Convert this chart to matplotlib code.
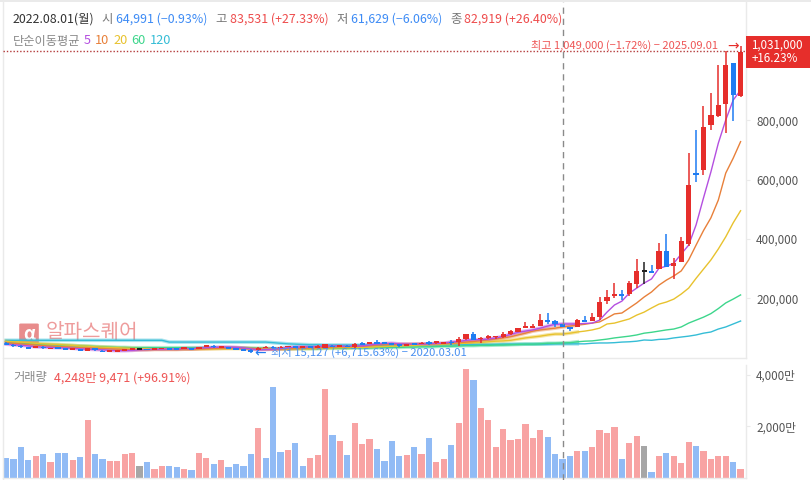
import matplotlib
matplotlib.use("Agg")
import matplotlib.pyplot as plt
from matplotlib.patches import Rectangle, FancyBboxPatch
from matplotlib.lines import Line2D

plt.rcParams['font.family'] = ['Noto Sans CJK KR', 'DejaVu Sans']

# Monthly candles, in thousands
opens = [50,43,40,35,33,37,30,33,32,26,28,23,31,23,20,20,23,25,28,29,26,28,32,29,30,32,29,35,39,34,
         34,32,29,25,25,33,36,32,36,38,34,38,33,33,40,37,40,35,48,47,51,51,48,44,40,48,47,51,48,48,
         52,51,61,79,61,66,68,70,78,87,99,99,106,126,123,113,103,103,126,123,137,191,207,214,214,248,292,292,300,359,
         309,323,383,621,632,784,814,856,992,882]
closes = [43,38,34,30,39,31,32,31,26,30,22,31,24,17.5,25,25,29,32,28,26,30,31,26,28,35,26,34,41,34,37,
          29,26,23,20,33,36,32,36,38,34,38,33,40,44,35,41,35,47,43,51,48,48,42,38,45,44,49,44,54,51,
          48,63,79,60,66,73,72,79,90,98,106,106,126,120,113,103,96,126,120,137,187,204,214,207,251,292,292,286,359,306,
          318,393,582,617,777,818,852,987,885,1031]
highs = [52,44,41,36,40,38,33,34,33,31,29,32,32,24,26,26,30,33,31,30,31,33,33,30,36,33,35,42,43,40,
         35,33,30,30,35,38,38,38,40,39,40,39,41,46,42,43,42,50,52,53,58,53,50,46,46,50,51,57,56,53,
         59,68,80,87,69,77,74,86,93,100,120,113,147,150,126,113,103,129,140,150,204,227,251,227,258,332,322,312,385,416,
         336,407,689,767,848,891,987,1034,992,1049]
lows = [42,37,33,29,32,30,29,30,25,25,21,22,23,17,19,19,22,24,25,25,25,27,25,27,29,25,28,34,33,33,
        28,25,22,15,24,31,30,31,34,33,33,32,32,32,34,36,34,30,42,46,47,47,41,36,39,43,46,43,47,47,
        42,40,60,59,49,62,62,65,76,85,99,99,106,113,103,103,89,103,120,123,126,180,202,194,208,234,248,286,300,306,
        266,323,377,593,615,767,812,758,799,877]

# Moving averages, in thousands
ma5 = [45,43,41,39,36,35,34,33,32,31,29,28,27,26,24,23,23,24,26,27,28,28,29,29,30,30,31,33,34,35,
       35,34,32,29,26,27,28,30,33,35,36,36,37,38,39,38,38,38,39,42,45,47,48,46,45,45,45,46,47,48,
       52,54,58,60,60,62,66,71,78,85,89,93,99,106,112,113,113,113,115,116,126,153,177,190,217,234,251,265,301,308,
       318,349,379,447,538,626,723,801,868,902]
ma10 = [50,48,46,44,42,40,38,37,36,34,33,32,31,30,29,28,27,26,26,26,27,27,27,27,28,28,29,30,31,31,
        32,32,31,30,29,28,28,29,29,30,31,32,33,34,35,36,36,37,38,40,42,43,44,44,45,45,46,46,47,47,
        48,50,52,54,57,60,63,66,70,76,82,89,93,96,99,103,106,109,112,116,120,133,147,150,167,184,204,221,244,261,
        275,292,329,379,428,471,531,622,672,728]
ma20 = [55,53,52,50,48,46,45,44,42,41,39,38,36,35,34,33,32,31,30,30,29,29,29,28,28,28,29,29,29,30,
        30,30,30,30,29,29,29,29,29,30,30,30,31,32,32,33,33,34,34,35,36,37,38,39,40,41,42,43,44,45,
        46,47,48,50,51,53,55,56,58,62,66,69,72,76,79,79,82,86,89,93,99,113,116,123,130,143,153,167,180,187,
        197,214,234,267,298,329,366,407,454,495]
ma60 = [49,48,47,46,45,44,43,42,41,40,39,38,37,36,35,34,34,33,33,33,33,33,33,33,33,33,33,33,33,33,
        32,32,32,31,31,31,30,30,30,30,30,30,30,31,31,31,31,32,32,32,33,33,34,34,35,35,36,36,37,38,
        38,39,40,40,41,41,42,42,43,44,45,45,46,48,48,49,50,53,55,56,59,62,66,69,72,76,82,85,89,93,
        96,103,116,126,136,148,165,184,197,211]
ma120 = [58,58,58,58,58,58,58,58,58,58,58,58,58,58,58,58,58,58,58,58,58,58,52,52,52,52,52,52,52,52,
         52,52,52,52,52,52,50,48,46,45,44,43,43,42,42,42,42,42,42,42,42,42,42,42,42,43,43,43,43,43,
         43,43,44,44,44,44,44,45,45,45,45,45,45,45,46,46,46,46,46,48,49,49,50,52,53,55,59,58,61,62,
         66,69,72,76,82,86,96,103,113,123]
ma_labels = ['5', '10', '20', '60', '120']

# Monthly volume, in units of 만
volume = [745,706,1176,667,823,902,588,941,941,667,784,2235,902,706,627,627,902,941,431,588,
          314,431,431,392,314,274,941,745,510,667,392,510,431,902,1921,745,3529,980,1059,1333,
          431,745,863,3451,1647,1412,863,2118,1294,1490,1098,627,1412,823,863,1176,902,1529,588,706,
          1255,2118,4235,3804,2706,2235,1176,1882,1451,1490,2078,1529,1843,1569,902,706,823,1020,1020,1176,
          1843,1725,1961,706,1333,1608,1216,196,823,941,823,549,1372,1216,1020,706,823,823,588,314]
vol_dir = ['d','d','d','d','u','d','u','d','d','u','d','u','d','d','u','u','u','u','n','d',
           'u','u','d','d','u','d','u','u','d','u','d','d','d','d','u','d','d','d','u','d',
           'd','u','u','u','d','u','d','u','u','u','d','d','d','d','u','d','u','d','u','u',
           'd','u','u','d','u','u','u','u','u','u','u','u','u','d','d','d','d','u','d','u',
           'u','u','u','d','u','u','n','d','u','d','u','u','u','d','u','u','u','u','d','u']

price_ticks = [200, 400, 600, 800]
volume_ticks = [2000, 4000]

RED, BLUE, BLACK = '#E62E2B', '#1E7CF2', '#222222'
V_RED, V_BLUE, V_GRAY = '#F8A3A3', '#91BBF5', '#A6A6A6'
MA_COLORS = ['#B44FE0', '#E8803A', '#E8C22E', '#3DD68C', '#35BDD6']
GRID = '#EAEAEA'

W, H = 811, 480
fig = plt.figure(figsize=(W / 100, H / 100), dpi=100, facecolor='white')


def axes_px(x0, y0, x1, y1):
    return fig.add_axes([x0 / W, 1 - y1 / H, (x1 - x0) / W, (y1 - y0) / H])


def ftext(x, y, s, color, size=8.9, ha='left', **kw):
    fig.text(x / W, 1 - y / H, s, color=color, fontsize=size, ha=ha, va='center', **kw)


XL, XR = -0.404, 99.73
n = len(closes)
xs = list(range(n))

# watermark sits behind both panels
fig.add_artist(FancyBboxPatch((20 / W, 1 - 343 / H), 18 / W, 19 / H, transform=fig.transFigure,
                              boxstyle="round,pad=0.001,rounding_size=0.002", fc='#E88C8C',
                              ec='none', zorder=-2))
ftext(29, 334, 'α', 'white', size=13, ha='center', fontweight='bold', zorder=-1)
ftext(46, 333, '알파스퀘어', '#EE9C9C', size=14.5, zorder=-1)

ax = axes_px(3, 2, 746, 358)
ax.set_xlim(XL, XR)
ax.set_ylim(-1.7, 1199)
ax.patch.set_alpha(0)

vx = axes_px(3, 365, 746, 477.5)
vx.set_xlim(XL, XR)
vx.set_ylim(0, 4392)
vx.patch.set_alpha(0)

for a, ticks, fmt in ((ax, price_ticks, lambda t: f"{t * 1000:,}"),
                      (vx, volume_ticks, lambda t: f"{t:,}만")):
    a.set_xticks([])
    a.set_yticks(ticks)
    a.set_yticklabels([fmt(t) for t in ticks], fontsize=8.4, color='#555555')
    a.yaxis.tick_right()
    a.tick_params(axis='y', length=3, width=0.8, color=GRID, pad=4.3)
    for s in ('top', 'left'):
        a.spines[s].set_visible(False)
    for s in ('right', 'bottom'):
        a.spines[s].set_color(GRID)
        a.spines[s].set_linewidth(1)
for lab in ax.get_yticklabels():
    lab.set_verticalalignment('center_baseline')

# frame at top and left
fig.add_artist(Line2D([0, 1], [1 - 1 / H, 1 - 1 / H], color=GRID, lw=1.4))
fig.add_artist(Line2D([2.5 / W, 2.5 / W], [0, 1], color=GRID, lw=1))

# moving averages
flat_until = 78
for vals, c in zip([ma120, ma60, ma20, ma10, ma5], MA_COLORS[::-1]):
    ax.plot(xs, vals, color=c, lw=1.0, zorder=3, solid_joinstyle='round')
    ax.plot(xs[:flat_until], vals[:flat_until], color=c, lw=2.6, alpha=0.42, zorder=2)

# candles
for i in xs:
    o, c, h, l = opens[i], closes[i], highs[i], lows[i]
    col = RED if c > o else BLUE if c < o else BLACK
    ax.vlines(i, l, h, color=col, lw=1.1, zorder=4)
    top, bot = max(o, c), min(o, c)
    thin = top - bot < 5
    ax.bar(i, 5 if thin else top - bot, bottom=(top + bot) / 2 - 2.5 if thin else bot,
           width=0.7, color=col, lw=0, zorder=5)

# volume bars
col_map = {'u': V_RED, 'd': V_BLUE, 'n': V_GRAY}
vx.bar(xs, volume, width=0.84, color=[col_map[d] for d in vol_dir], lw=0)

# high guide and crosshair
fig.add_artist(Line2D([3 / W, 746 / W], [1 - 51 / H, 1 - 51 / H], color='#B33A3A', lw=1,
                      ls=(0, (1, 1.4))))
fig.add_artist(Line2D([562.5 / W, 562.5 / W], [0, 1 - 2 / H], color='#8A8A8A', lw=1,
                      ls=(0, (4.5, 3.5))))

# header
ftext(13, 19, '2022.08.01(월)', '#333333')
ftext(101, 19, '시', '#777777')
ftext(116, 19, '64,991 (−0.93%)', '#3D8BF5')
ftext(215, 19, '고', '#777777')
ftext(230, 19, '83,531 (+27.33%)', '#EE4B4B')
ftext(336, 19, '저', '#777777')
ftext(351, 19, '61,629 (−6.06%)', '#3D8BF5')
ftext(450, 19, '종', '#777777')
ftext(464, 19, '82,919 (+26.40%)', '#EE4B4B')

ftext(13, 41, '단순이동평균', '#888888', size=8.8)
for xp, lab, c in zip([84, 95, 113, 131, 150], ma_labels, MA_COLORS):
    ftext(xp, 41, lab, c, size=9.2)

# annotations
ftext(531, 45, '최고 1,049,000 (−1.72%) − 2025.09.01', '#EE5555', size=8.0)
ftext(739, 46, '→', '#E62E2B', size=10, ha='right', family=['DejaVu Sans'])
ftext(271, 352, '최저 15,127 (+6,715.63%) − 2020.03.01', '#4A90F0', size=8.1, zorder=6)
ftext(254, 353, '←', '#1E7CF2', size=10, family=['DejaVu Sans'])

# last price badge
fig.add_artist(Rectangle((746 / W, 1 - 68 / H), 64 / W, 32 / H, transform=fig.transFigure,
                         fc='#E62E2B', ec='none'))
ftext(777, 45, '1,031,000', 'white', size=8.4, ha='center', zorder=7)
ftext(775, 59, '+16.23%', 'white', size=8.4, ha='center', zorder=7)

# volume title
ftext(13, 378, '거래량', '#888888', size=8.8)
ftext(54, 378, '4,248만 9,471 (+96.91%)', '#EE5555')

fig.savefig('out.png', dpi=100, facecolor='white')
